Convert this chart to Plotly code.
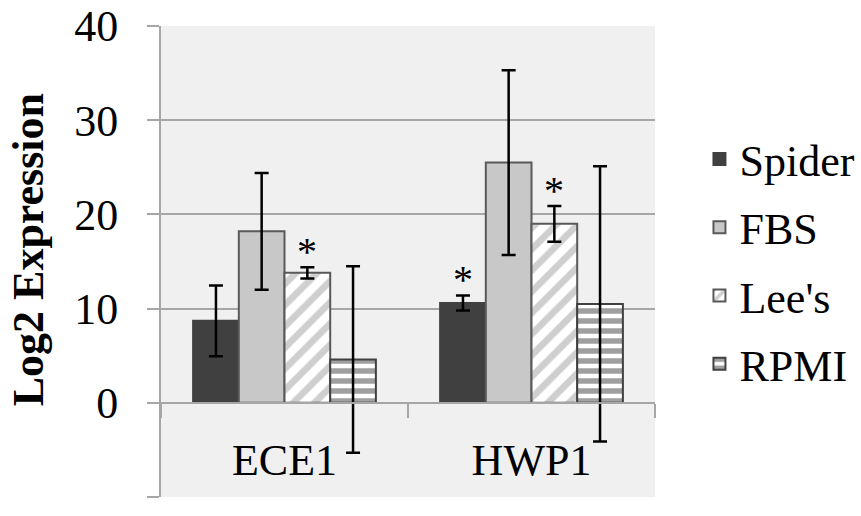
import plotly.graph_objects as go

categories = ["ECE1", "HWP1"]
series_names = ["Spider", "FBS", "Lee's", "RPMI"]
spider = [8.7, 10.6]
fbs = [18.2, 25.5]
lees = [13.8, 19.0]
rpmi = [4.6, 10.5]
spider_err = [3.75, 0.8]
fbs_err = [6.2, 9.8]
lees_err = [0.6, 1.9]
rpmi_err = [9.9, 14.6]
significance = [["", "*"], ["", ""], ["*", "*"], ["", ""]]  # per series, per category
y_ticks = [-10, 0, 10, 20, 30, 40]
y_title = "Log2 Expression"

values = [spider, fbs, lees, rpmi]
errors = [spider_err, fbs_err, lees_err, rpmi_err]

FONT = "Times New Roman, Liberation Serif, serif"
FS = 44
GRID = "#a6a6a6"
styles = [
    dict(color="#404040", line=dict(color="#404040", width=2)),
    dict(color="#c8c8c8", line=dict(color="#595959", width=2)),
    dict(color="white", line=dict(color="#595959", width=2),
         pattern=dict(shape="/", fgcolor="#a0a0a0", bgcolor="white", size=15, solidity=0.45)),
    dict(color="white", line=dict(color="#404040", width=2),
         pattern=dict(shape="-", fgcolor="#404040", bgcolor="white", size=10, solidity=0.55)),
]

bargap = 0.26
fig = go.Figure()
for k, name in enumerate(series_names):
    fig.add_trace(go.Bar(
        x=categories, y=values[k], name=name, marker=styles[k],
        legendgroup=name,
        error_y=dict(type="data", array=errors[k], visible=True,
                     color="black", thickness=2.5, width=7),
    ))

# significance asterisks above error bars
n = len(series_names)
slot = (1 - bargap) / n
annotations = []
for k in range(n):
    for i, cat in enumerate(categories):
        if significance[k][i]:
            xc = i - (1 - bargap) / 2 + (k + 0.5) * slot
            annotations.append(dict(
                x=xc, y=values[k][i] + errors[k][i], xref="x", yref="y",
                text=significance[k][i], showarrow=False, yanchor="bottom",
                yshift=-9, font=dict(family=FONT, size=40, color="black")))

# y-axis title
annotations.append(dict(
    x=-0.269, y=0.524, xref="paper", yref="paper", text="<b>" + y_title + "</b>",
    textangle=-90, showarrow=False, xanchor="center", yanchor="middle",
    font=dict(family=FONT, size=FS, color="black")))

y_min, y_max = y_ticks[0], y_ticks[-1]
fig.update_layout(
    width=861, height=516,
    margin=dict(l=161, r=206, t=26, b=19, autoexpand=False),
    paper_bgcolor="white", plot_bgcolor="#f0f0f0",
    barmode="group", bargap=bargap, bargroupgap=0,
    font=dict(family=FONT, size=FS, color="black"),
    showlegend=True,
    legend=dict(x=1.09, y=0.5, xanchor="left", yanchor="middle",
                font=dict(family=FONT, size=FS, color="black"),
                tracegroupgap=8, traceorder="grouped", bgcolor="rgba(0,0,0,0)"),
    annotations=annotations,
    xaxis=dict(
        anchor="free", position=(0 - y_min) / (y_max - y_min), automargin=False,
        showline=True, linecolor=GRID, linewidth=2,
        ticks="outside", tickson="boundaries", ticklen=14, tickcolor=GRID, tickwidth=2,
        ticklabelstandoff=18,
        showgrid=False, tickfont=dict(family=FONT, size=FS, color="black"),
    ),
    yaxis=dict(
        range=[y_min, y_max], tickvals=y_ticks, showline=True, linecolor=GRID, linewidth=2,
        showgrid=True, gridcolor=GRID, gridwidth=2, zeroline=False, automargin=False,
        ticks="outside", ticklen=12, tickcolor=GRID, tickwidth=2,
        ticklabelstandoff=20,
        tickfont=dict(family=FONT, size=FS, color="black"),
    ),
)

fig.write_html("out.html", config={"displayModeBar": False},
               post_script="document.body.style.margin='0';document.body.style.padding='0';")
